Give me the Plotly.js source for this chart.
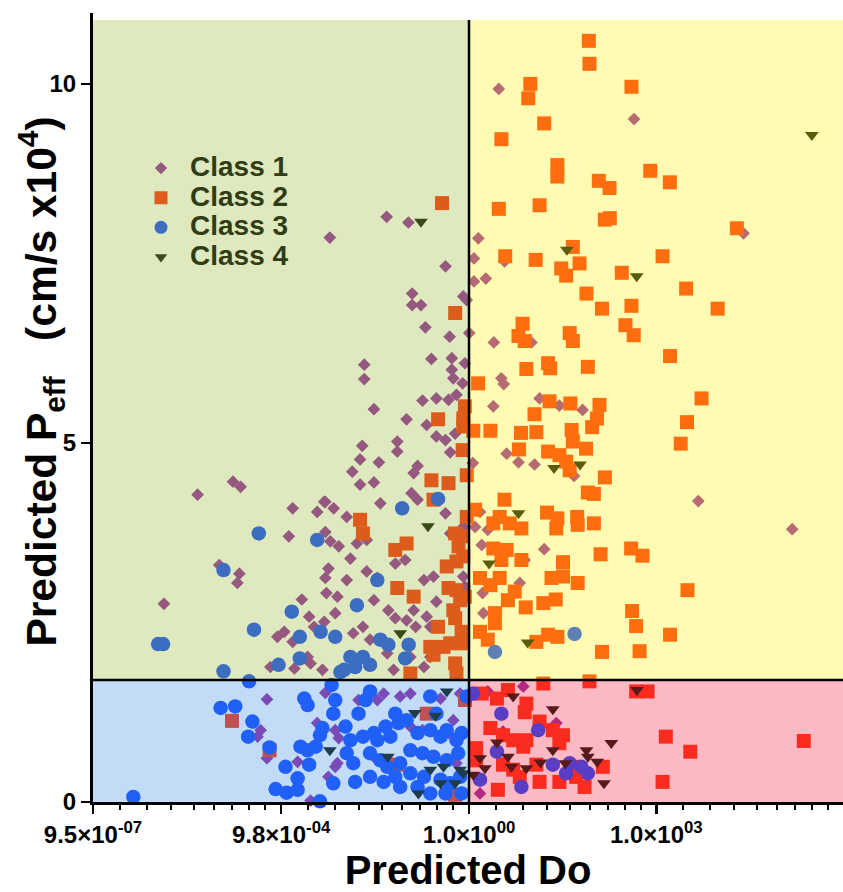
<!DOCTYPE html>
<html>
<head>
<meta charset="utf-8">
<script src="https://cdn.plot.ly/plotly-3.0.1.min.js"></script>
<style>html,body{margin:0;padding:0;background:#fff;}</style>
</head>
<body>
<div id="chart" style="width:843px;height:892px;"></div>
<script>
// ---------------- DATA ----------------
const classNames = ['Class 1', 'Class 2', 'Class 3', 'Class 4'];

// Class 1 (diamonds): predicted Do, predicted Peff (cm/s x10^4)
const class1Do = [3.0,440,2.5e4,1.41,1.2,3.7,1.86,1.2,0.81,1.01,2.5,10,0.86,3.3,3.6,0.79,2.45,13.5,28,66,4.0,6.2,11.2,48,1.15,4700,1.5e5,1.5,1.25,2.0,16,1.6,7.8,6.5,1.65,1.7,0.81,0.86,
0.048,0.107,5.9e-3,0.42,0.92,0.123,0.123,0.17,0.20,0.49,0.25,0.53,0.53,0.56,0.021,0.021,0.030,0.18,0.30,0.47,0.63,0.10,0.21,0.30,0.42,0.60,0.0195,0.018,0.071,0.071,0.036,0.0135,0.15,0.13,0.50,0.018,0.030,0.12,0.15,5.0e-3,6.8e-3,0.038,
0.011,0.42,0.50,0.81,0.016,0.023,0.0126,0.066,0.095,0.19,0.27,0.011,7.8e-3,0.023,0.034,0.030,0.051,0.066,0.13,0.10,0.14,0.24,0.30,0.21,0.014,0.020,0.026,0.19,0.24,0.049,0.062,0.115,
4.5e-5,1.5e-3,3.7e-3,4.8e-3,1.3e-3,5.0e-3,6.0e-3,8.2e-3,1.0e-4,2.1e-4,1.95e-4,5.0e-3,5.6e-3,1.3e-5,5.2e-3,2.1e-3,2.75e-3,3.3e-3,4.8e-3,7.2e-3,8.5e-4,1.5e-3,1.1e-3,6.6e-4,1.6e-3,2.9e-3,4.5e-3,2.6e-3,1.66e-4,2.2e-4,
5.8e-4,4.6e-4,4.1e-4,5.8e-4,1.8e-3,5.0e-3,7.2e-3,5.6e-3,3.7e-3,2.9e-3,0.017,0.034,0.043,0.079,0.115,7.2e-3,8.2e-3,0.56,0.47,0.115,0.18,0.030,7.8e-3,0.63,0.35,0.72,
7.4,2.0,3.5,25,3.5,1.5];
const class1Peff = [9.93,9.51,7.92,7.85,7.57,7.53,7.29,7.25,7.04,6.53,6.40,6.40,6.11,5.90,5.82,5.83,5.51,5.62,5.52,5.46,4.85,4.73,4.70,4.54,4.72,4.19,3.80,4.04,3.83,3.79,3.52,3.58,3.37,3.05,2.91,2.63,3.14,3.00,
8.15,8.07,7.86,7.46,6.99,7.08,6.92,6.92,6.61,6.48,6.17,6.18,6.02,5.90,6.09,5.89,5.47,5.59,5.62,5.60,5.67,5.33,5.25,5.09,5.04,5.13,4.96,4.77,5.02,4.88,4.73,4.60,4.68,4.58,4.87,4.42,4.45,4.30,4.21,4.18,4.09,4.16,
3.97,4.02,3.74,3.83,3.60,3.65,3.39,3.32,3.37,3.09,3.14,3.09,2.86,3.21,3.12,2.81,2.67,2.56,2.67,2.53,2.44,2.44,2.79,2.58,2.35,2.44,2.26,1.88,2.02,2.07,1.84,2.02,
4.28,4.09,4.04,4.18,3.70,3.76,3.63,3.56,3.30,3.18,3.05,3.12,3.25,2.76,2.91,2.82,2.58,2.44,2.51,2.63,2.30,2.23,2.37,1.88,1.86,1.93,1.84,2.02,4.46,4.39,
1.43,1.00,0.91,0.61,0.56,1.52,0.49,0.35,1.10,0.02,1.42,1.42,1.51,1.47,1.51,1.00,0.89,1.14,0.96,1.05,1.00,0.63,0.54,0.54,1.44,1.51,
1.61,1.54,0.98,1.10,0.54,0.12];

// Class 2 (squares)
const class2Do = [83,85,9.6,8.9,400,16,3.3,26,26,120,178,800,1650,3.0,13.5,150,180,1.95e4,46,3.8,11.7,30,36,59,1260,280,3000,76,135,400,9600,7.2,6.2,7.8,41,46,320,435,
1660,8.3,18.5,20,80,1.4,5300,19.5,42,123,112,94,11.2,3100,2.2,6.8,12,44,46,75,2460,6.3,18.5,28,36,41,150,80,100,0.92,1.25,3.7,3.1,2.45,6.9,4.5,17.8,26,25,54,55,100,
2.45,4.0,3.3,6.9,395,600,128,32,1.5,2.2,3.1,21,32,55,4.2,5.4,15.5,24.5,8.1,3160,410,475,2.6,2.6,1.5,2.0,18.5,26,12,1660,135,540,0.76,0.81,0.86,1.17,
0.37,0.60,0.86,0.81,0.81,0.32,0.79,0.25,0.47,0.27,0.018,0.020,0.066,0.10,0.071,0.13,0.44,0.63,0.60,0.68,0.47,0.63,0.72,0.56,0.60,0.32,0.24,0.39,0.50,0.27,0.76,0.76,0.60,0.63,0.115,0.92,
1.6e-4,6.4e-4,0.21,0.071,0.60,0.86,
1.6,2.8,4.2,8.3,7.8,15.5,85,475,725,2.2,3.5,5.1,8.3,7.4,22,32,28,1.3,1.3,3.5,5.1,12,13.5,28,49,52,71,139,2.9,1420,3500,1260,2.3e5,13.5,6.5];
const class2Peff = [10.60,10.28,10.0,9.80,9.96,9.45,9.23,8.87,8.71,8.65,8.55,8.79,8.63,8.26,8.31,8.11,8.13,7.99,7.73,7.60,7.55,7.43,7.33,7.50,7.60,7.37,7.15,7.08,6.87,6.91,6.87,6.66,6.49,6.42,6.53,6.42,6.64,6.50,
6.21,6.03,6.11,6.04,6.06,5.83,5.62,5.58,5.55,5.53,5.34,5.22,5.40,5.29,5.17,5.14,5.15,5.18,5.02,4.92,4.99,4.91,4.88,4.83,4.74,4.62,4.52,4.31,4.29,4.55,4.07,4.21,3.97,3.88,3.81,3.88,4.03,3.95,3.81,3.97,3.86,3.88,
3.53,3.51,3.37,3.37,3.53,3.43,3.45,3.34,3.12,3.02,3.12,3.12,3.14,3.05,2.81,2.93,2.77,2.82,2.71,2.95,2.66,2.45,2.63,2.49,2.37,2.26,2.33,2.30,2.23,2.33,2.09,2.10,3.70,3.42,2.86,5.17,
8.34,6.81,5.51,5.23,5.34,5.33,4.90,4.48,4.44,4.21,3.93,3.74,3.51,3.60,2.98,2.86,3.28,3.35,3.74,3.56,2.98,2.95,2.81,2.67,2.56,2.44,2.16,2.16,2.21,2.05,2.37,2.21,1.93,1.79,1.79,3.97,
1.13,0.72,1.23,0.52,0.10,1.42,
1.51,1.44,1.56,1.37,1.25,1.65,1.68,1.54,1.54,1.03,0.93,0.86,0.86,0.77,1.00,0.93,0.82,0.75,0.58,0.52,0.45,0.52,0.28,0.28,0.49,0.35,0.21,0.49,0.17,0.91,0.70,0.28,0.85,1.12,0.35];

// Class 3 (circles)
const class3Do = [4.3e-4,3.7e-3,1.17e-4,1.45e-3,3.6e-4,1.05e-5,1.26e-5,1.95e-3,4.2e-3,7.2e-3,1.95e-3,8.9e-4,1.17e-4,8.7e-3,0.32,0.085,0.034,0.016,0.038,0.051,0.108,0.0126,0.020,0.026,0.015,0.010,0.095,49,2.6,
1.05e-4,1.8e-4,3.0e-4,3.4e-4,2.9e-4,6.4e-4,1.15e-3,1.8e-3,1.8e-3,8.0e-4,1.2e-3,2.75e-3,2.3e-3,2.6e-3,4.5e-3,4.1e-3,3.5e-3,2.0e-3,2.6e-3,6.7e-3,7.2e-3,6.7e-3,4.1e-3,4.2e-6,6.3e-3,
0.026,0.022,0.017,0.0105,0.0126,0.011,0.014,0.020,0.030,0.046,0.055,0.034,0.066,0.074,0.10,0.24,0.30,0.15,0.24,0.35,0.44,0.63,0.76,0.026,0.038,0.049,0.079,0.115,0.18,0.27,0.44,0.67,
0.015,0.026,0.043,0.066,0.079,0.115,0.19,0.15,0.35,0.50,0.72,0.24,0.42,0.76,0.92,
1.17,3.3,12.8,2.8,22,41,36,80,63,6.9,1.5];
const class3Peff = [3.74,3.65,3.23,2.65,2.40,2.20,2.20,2.30,2.37,2.30,2.00,1.91,1.82,1.81,4.22,4.09,3.09,2.74,2.26,2.19,2.19,2.02,2.02,1.91,1.88,1.84,2.00,2.34,2.09,
1.31,1.33,1.68,1.12,0.91,0.76,0.49,0.33,0.17,0.18,0.13,0.52,1.44,1.35,1.03,0.93,0.77,0.77,0.72,1.23,1.42,0.26,0.01,0.07,1.63,
1.54,1.42,1.23,1.05,0.86,0.68,0.54,0.91,0.96,1.05,0.91,0.86,1.23,1.10,1.14,1.47,1.23,0.96,1.00,0.91,1.00,0.86,0.96,0.68,0.58,0.49,0.54,0.72,0.68,0.63,0.58,0.68,
0.28,0.35,0.28,0.35,0.21,0.40,0.35,0.21,0.31,0.26,0.35,0.12,0.12,0.12,1.47,
1.51,1.23,1.00,0.70,0.52,0.54,0.40,0.40,0.49,0.21,0.31];

// Class 4 (down triangles)
const class4Do = [3.1e5,37,485,23,60,6.2,2.1,8.7,0.17,0.22,0.079,
5.9e-3,0.44,0.135,0.29,0.050,0.24,0.39,0.72,0.60,0.35,0.155,0.81,
490,5.1,22,2.8,190,22,76,80,113,1.5,1.8,4.2,4.8,8.3,14,35,145,1.17];
const class4Peff = [9.29,7.69,7.32,4.65,4.70,4.02,3.32,2.22,8.08,3.84,2.35,
0.72,1.54,1.24,1.20,0.63,0.45,0.49,0.45,0.26,0.26,0.12,0.40,
1.56,1.47,1.29,0.83,0.82,0.72,0.72,0.63,0.56,0.61,0.47,0.63,0.49,0.47,0.55,0.54,0.26,0.38];

// Quadrant thresholds
const doThreshold = 1;
const peffThreshold = 1.7;

// Axis ticks and titles
const xTickVals = [9.5e-7, 9.8e-4, 1, 1000];
const xTickText = ['9.5×10<sup>-07</sup>', '9.8×10<sup>-04</sup>', '1.0×10<sup>00</sup>', '1.0×10<sup>03</sup>'];
const yTickVals = [0, 5, 10];
const xTitle = 'Predicted Do';
const yTitle = 'Predicted P<sub>eff</sub>\u00a0\u00a0 (cm/s x10<sup>4</sup>)';

// ---------------- STYLE ----------------
const FONT = 'Liberation Sans, Arial, Helvetica, sans-serif';
const xRange = [Math.log10(9.5e-7), 5.99];
const yRange = [0, 10.89];
const minorOffsets = [0.432, 0.864, 1.248, 1.616, 1.936, 2.224, 2.496, 2.752];
const minorVals = [];
xTickVals.forEach(v => minorOffsets.forEach(o => {
  const lv = Math.log10(v) + o;
  if (lv < xRange[1]) minorVals.push(Math.pow(10, lv));
}));
const xSplit = (Math.log10(doThreshold) - xRange[0]) / (xRange[1] - xRange[0]);

const pure = ['#9730A2', '#FF3613', '#184EFF', '#141C0E'];
const legendCol = ['rgb(149,88,128)', 'rgb(222,92,28)', 'rgb(60,109,193)', 'rgb(58,74,24)'];
const symbols = ['diamond', 'square', 'circle', 'triangle-down'];
const sizes = [9.8, 14, 14.5, 12];
const legendSizes = [9.5, 13, 13, 11];

const xs = [class1Do, class2Do, class3Do, class4Do];
const ys = [class1Peff, class2Peff, class3Peff, class4Peff];

const traces = [];
for (let i = 0; i < 4; i++) {
  traces.push({
    type: 'scatter', mode: 'markers', x: xs[i], y: ys[i], name: classNames[i],
    showlegend: false, cliponaxis: false, hoverinfo: 'skip',
    marker: {symbol: symbols[i], size: sizes[i], color: pure[i], line: {width: 0}}
  });
}
for (let i = 0; i < 4; i++) {
  traces.push({
    type: 'scatter', mode: 'markers', x: [null], y: [null],
    name: '<span style="font-size:28px">' + classNames[i] + '</span>',
    showlegend: true,
    marker: {symbol: symbols[i], size: legendSizes[i], color: legendCol[i], line: {width: 0}}
  });
}

const shapes = [
  {type:'rect', xref:'paper', yref:'y', x0:0, x1:xSplit, y0:peffThreshold, y1:yRange[1], fillcolor:'rgba(145,182,48,0.3)', line:{width:0}, layer:'above'},
  {type:'rect', xref:'paper', yref:'y', x0:xSplit, x1:1, y0:peffThreshold, y1:yRange[1], fillcolor:'rgba(255,242,2,0.3)', line:{width:0}, layer:'above'},
  {type:'rect', xref:'paper', yref:'y', x0:0, x1:xSplit, y0:0, y1:peffThreshold, fillcolor:'rgba(52,138,228,0.3)', line:{width:0}, layer:'above'},
  {type:'rect', xref:'paper', yref:'y', x0:xSplit, x1:1, y0:0, y1:peffThreshold, fillcolor:'rgba(242,22,58,0.3)', line:{width:0}, layer:'above'},
  {type:'line', xref:'paper', yref:'paper', x0:xSplit, x1:xSplit, y0:0, y1:1, line:{color:'#000', width:2.5}, layer:'above'},
  {type:'line', xref:'paper', yref:'y', x0:0, x1:1, y0:peffThreshold, y1:peffThreshold, line:{color:'#000', width:2.5}, layer:'above'},
  {type:'line', xref:'paper', xsizemode:'pixel', xanchor:0, x0:-1.5, x1:-1.5, yref:'paper', y0:0.99, y1:1.009, line:{color:'#000', width:3}, layer:'above'}
];

const layout = {
  width: 843, height: 892,
  margin: {l: 93, r: 0, t: 20, b: 90, pad: 0},
  paper_bgcolor: '#ffffff', plot_bgcolor: '#ffffff',
  font: {family: FONT, color: '#000'},
  showlegend: true,
  legend: {
    x: 0.052, y: 0.836, xanchor: 'left', yanchor: 'top',
    bgcolor: 'rgba(0,0,0,0)', borderwidth: 0, itemwidth: 48, tracegroupgap: 0,
    font: {family: FONT, size: 20.5, color: 'rgb(48,60,20)', weight: 'bold'}
  },
  xaxis: {
    type: 'log', range: xRange, showgrid: false, zeroline: false,
    showline: true, linecolor: '#000', linewidth: 3, mirror: false,
    ticks: 'outside', ticklen: 9, tickwidth: 2.5, tickcolor: '#000',
    tickmode: 'array', tickvals: xTickVals, ticktext: xTickText,
    tickfont: {family: FONT, size: 24, color: '#000', weight: 'bold'},
    minor: {tickmode: 'array', tickvals: minorVals, ticks: 'outside', ticklen: 5, tickwidth: 2, tickcolor: '#000', showgrid: false},
    title: {text: xTitle, font: {family: FONT, size: 40, color: '#000', weight: 'bold'}, standoff: 6}
  },
  yaxis: {
    range: yRange, showgrid: false, zeroline: false,
    showline: true, linecolor: '#000', linewidth: 3,
    ticks: 'outside', ticklen: 9, tickwidth: 2.5, tickcolor: '#000',
    tickmode: 'array', tickvals: yTickVals,
    tickfont: {family: FONT, size: 24, color: '#000', weight: 'bold'}
  },
  annotations: [{
    text: yTitle, xref: 'paper', yref: 'paper', x: -0.069, y: 0.538,
    xanchor: 'center', yanchor: 'middle', textangle: -90, showarrow: false,
    font: {family: FONT, size: 42.5, color: '#000', weight: 'bold'}
  }],
  shapes: shapes
};

Plotly.newPlot('chart', traces, layout, {displayModeBar: false, staticPlot: true});
</script>
</body>
</html>
